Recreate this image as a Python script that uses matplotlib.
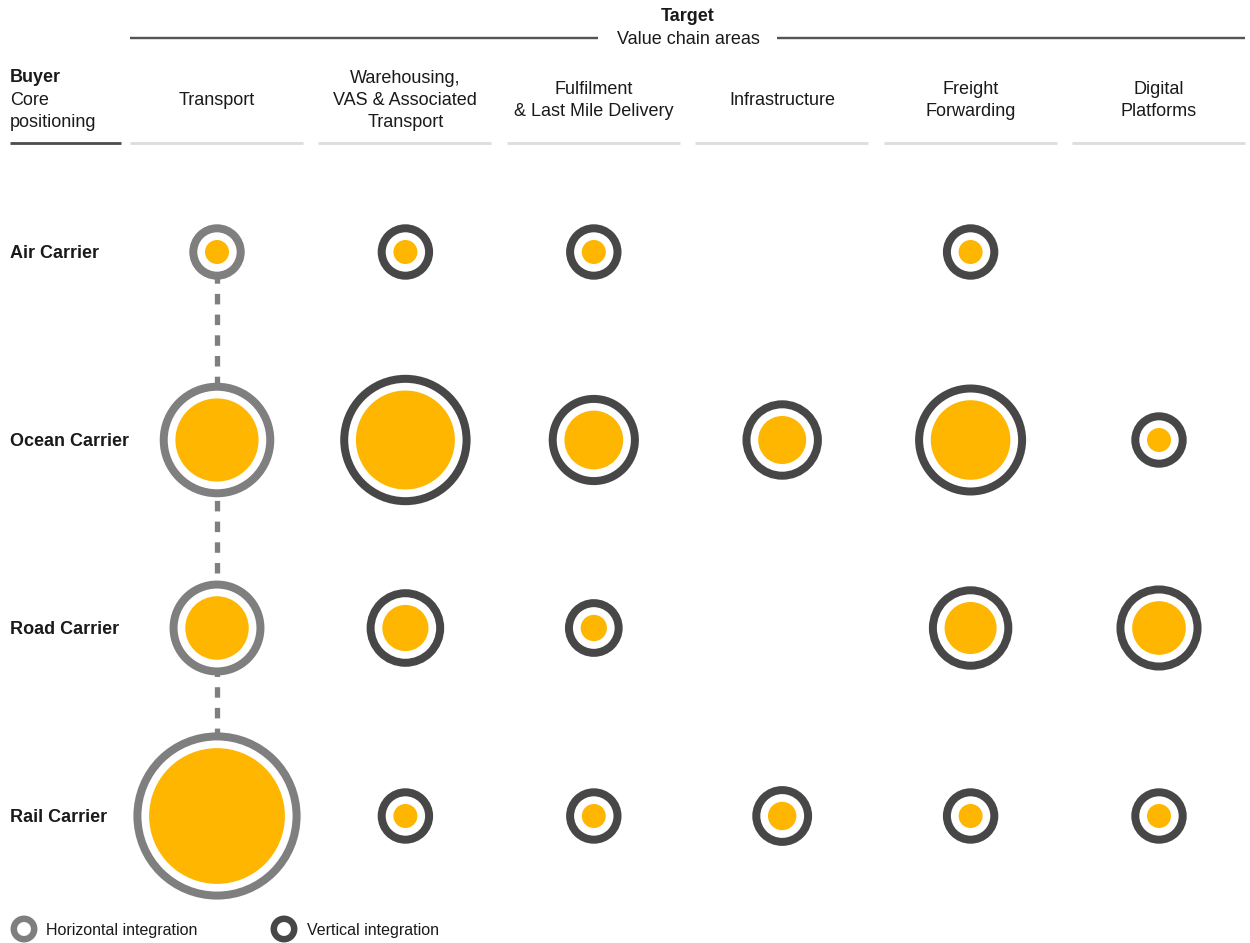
import numpy as np
import matplotlib
matplotlib.use("Agg")
import matplotlib.pyplot as plt
from matplotlib.patches import Circle

plt.rcParams['font.family'] = ['Liberation Sans', 'DejaVu Sans']

# ---------------- data ----------------
buyers = ["Air Carrier", "Ocean Carrier", "Road Carrier", "Rail Carrier"]
targets = ["Transport", "Warehousing,\nVAS & Associated\nTransport",
           "Fulfilment\n& Last Mile Delivery", "Infrastructure",
           "Freight\nForwarding", "Digital\nPlatforms"]
integration = ["Horizontal", "Vertical", "Vertical", "Vertical", "Vertical", "Vertical"]
# relative deal volume (bubble area), 0 = no bubble
air_deals = [1, 1, 1, 0, 1, 0]
ocean_deals = [12, 17, 6, 4, 11, 1]
road_deals = [7, 3.7, 1.2, 0, 4.7, 5]
rail_deals = [32, 1, 1, 1.4, 1, 1]
deals = [air_deals, ocean_deals, road_deals, rail_deals]
legend_labels = ["Horizontal integration", "Vertical integration"]

# ---------------- style ----------------
YELLOW = "#FFB600"
RING = {"Horizontal": "#7F7F7F", "Vertical": "#474747"}
TXT = "#1a1a1a"
PX = 0.72  # points per pixel at 100 dpi
LS = 1.4

fig = plt.figure(figsize=(12.5, 9.43), dpi=100)
ax = fig.add_axes([0, 0, 1, 1])
ax.set_xlim(0, 1250)
ax.set_ylim(943, 0)
ax.axis('off')

COL_X0, COL_DX = 217, 188.4
ROW_Y0, ROW_DY = 252, 188
col_x = [COL_X0 + i * COL_DX for i in range(len(targets))]
row_y = [ROW_Y0 + j * ROW_DY for j in range(len(buyers))]
R_UNIT = 12.0  # px radius for value 1
DY = 1.5  # small vertical text nudge

# header
ax.text(688, 15 + DY, "Target", ha='center', va='center', fontsize=13, fontweight='bold', color=TXT)
ax.text(688, 38 + DY, "Value chain areas", ha='center', va='center', fontsize=13, color=TXT)
ax.plot([130, 598], [38, 38], color="#555555", lw=2.4 * PX, solid_capstyle='butt')
ax.plot([777, 1245], [38, 38], color="#555555", lw=2.4 * PX, solid_capstyle='butt')

ax.text(10, 99 + DY, "Buyer\nCore\npositioning", ha='left', va='center', fontsize=13,
        color=TXT, linespacing=LS, alpha=0)
ax.text(10, 76 + DY, "Buyer", ha='left', va='center', fontsize=13, fontweight='bold', color=TXT)
ax.text(10, 110 + DY, "Core\npositioning", ha='left', va='center', fontsize=13, color=TXT, linespacing=LS)
ax.plot([10, 121], [143, 143], color="#4d4d4d", lw=2.8 * PX, solid_capstyle='butt')

for x, lab in zip(col_x, targets):
    ax.text(x, 99 + DY, lab, ha='center', va='center', fontsize=13, color=TXT,
            linespacing=LS, multialignment='center')
    ax.plot([x - 87, x + 86], [143, 143], color="#dddddd", lw=2.8 * PX, solid_capstyle='butt')

for y, lab in zip(row_y, buyers):
    ax.text(10, y + DY, lab, ha='left', va='center', fontsize=13, fontweight='bold', color=TXT)

# dashed connector for horizontal integration column
for i, kind in enumerate(integration):
    if kind == "Horizontal":
        ys = [row_y[j] for j in range(len(buyers)) if deals[j][i] > 0]
        ax.plot([col_x[i]] * 2, [min(ys), max(ys)], color=RING[kind], lw=5.3 * PX,
                dashes=(10.5 / 5.3, 10.2 / 5.3), dash_capstyle='butt', zorder=1)

# bubbles
RING_W, GAP = 8.0, 7.7
for j, row in enumerate(deals):
    for i, v in enumerate(row):
        if v <= 0:
            continue
        r = R_UNIT * np.sqrt(v)
        ax.add_patch(Circle((col_x[i], row_y[j]), r + GAP + RING_W / 2, facecolor='white',
                            edgecolor=RING[integration[i]], lw=RING_W * PX, zorder=2))
        ax.add_patch(Circle((col_x[i], row_y[j]), r, facecolor=YELLOW, edgecolor='none', zorder=3))

# legend
for (lx, tx), kind, lab in zip([(24, 46), (284, 307)], ["Horizontal", "Vertical"], legend_labels):
    ax.add_patch(Circle((lx, 929), 10.2, facecolor='white', edgecolor=RING[kind], lw=6.5 * PX, zorder=2))
    ax.text(tx, 929 + DY, lab, ha='left', va='center', fontsize=11.5, color=TXT)

fig.savefig("out.png", dpi=100)
